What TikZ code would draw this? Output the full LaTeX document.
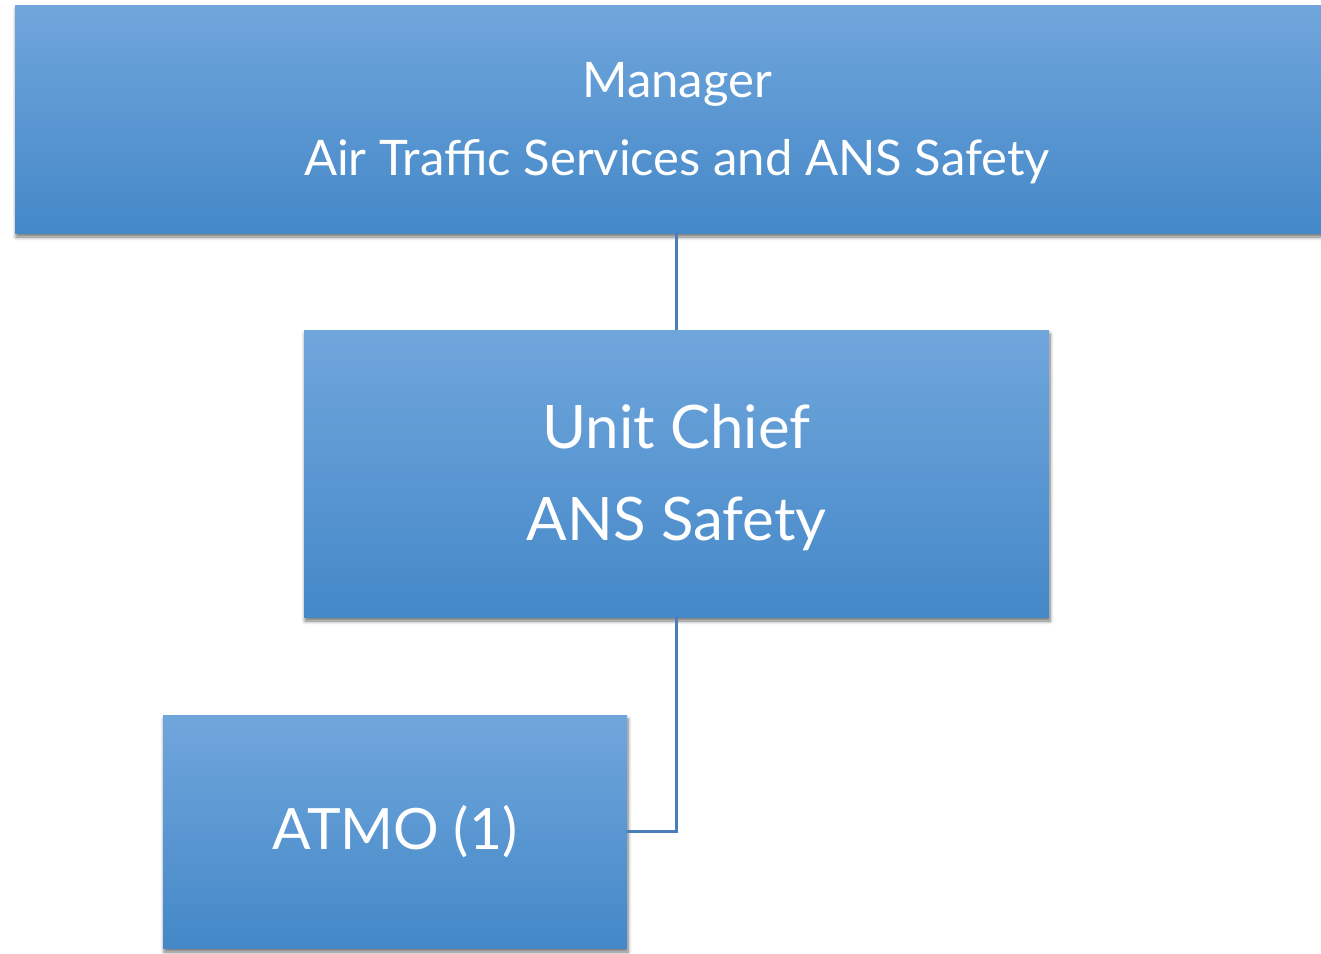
\documentclass[tikz,border=0pt]{standalone}
\usepackage{fontspec}
\setmainfont{Lato}
\usetikzlibrary{shadows.blur}
\definecolor{boxtop}{RGB}{112,166,220}
\definecolor{boxmid}{RGB}{82,152,217}
\definecolor{boxbot}{RGB}{68,136,200}
\definecolor{linkcol}{RGB}{74,126,187}
\tikzset{
  orgbox/.style={rectangle, inner sep=0pt, text=white, align=center,
    top color=boxtop, middle color=boxmid, bottom color=boxbot,
    blur shadow={shadow xshift=1pt, shadow yshift=-4pt, shadow blur steps=6,
      shadow blur radius=3.5pt, shadow opacity=55}},
  link/.style={draw=linkcol, line width=2.4pt}
}
\begin{document}
\begin{tikzpicture}[x=1pt,y=-1pt]
\useasboundingbox (0,0) rectangle (1321,953);
\clip (0,0) rectangle (1321,953);
% Manager
\node[orgbox, minimum width=1324pt, minimum height=228pt,
      font=\fontsize{49}{78}\selectfont] (mgr) at (677,119)
  {\rule{0pt}{43pt}Manager\\Air Traffic Services and ANS Safety};
% Unit chief
\node[orgbox, minimum width=745pt, minimum height=287pt,
      font=\fontsize{60}{92}\selectfont] (chief) at (676.5,473.5)
  {\rule{0pt}{52pt}Unit Chief\\ANS Safety};
% ATMO
\node[orgbox, minimum width=464pt, minimum height=233pt,
      font=\fontsize{57}{72}\selectfont] (atmo) at (395,831.5)
  {\raisebox{-1pt}{ATMO (1)}};
% reporting lines
\draw[link] (mgr.south -| chief.north) -- (chief.north);
\draw[link] (chief.south) |- (atmo.east);
\end{tikzpicture}
\end{document}
